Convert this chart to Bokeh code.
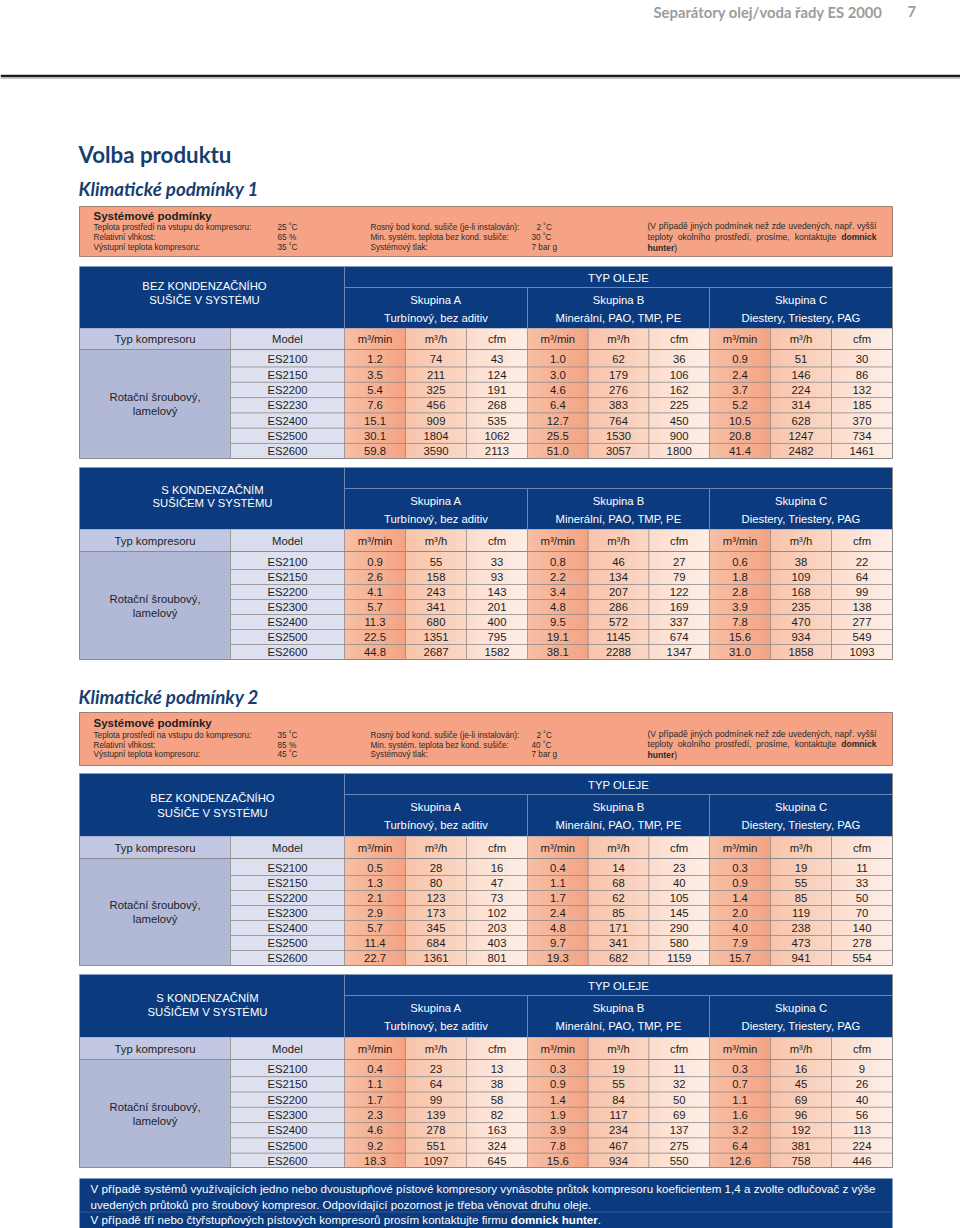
from bokeh.plotting import figure
from bokeh.models import Range1d, ColumnDataSource
from bokeh.embed import file_html
from bokeh.resources import INLINE

# ---------------- data ----------------
page_header = "Separátory olej/voda řady ES 2000"
page_number = "7"
title = "Volba produktu"
subtitle_1 = "Klimatické podmínky 1"
subtitle_2 = "Klimatické podmínky 2"

cond_labels_left = ["Teplota prostředí na vstupu do kompresoru:", "Relativní vlhkost:", "Výstupní teplota kompresoru:"]
cond_labels_mid = ["Rosný bod kond. sušiče (je-li instalován):", "Min. systém. teplota bez kond. sušiče:", "Systémový tlak:"]
cond1_left_vals = ["25 ˚C", "65 %", "35 ˚C"]
cond1_mid_vals = ["2 ˚C", "30 ˚C", "7 bar g"]
cond2_left_vals = ["35 ˚C", "85 %", "45 ˚C"]
cond2_mid_vals = ["2 ˚C", "40 ˚C", "7 bar g"]
note_line_1 = "(V případě jiných podmínek než zde uvedených, např. vyšší"
note_line_2 = "teploty okolního prostředí, prosíme, kontaktujte"
note_bold = ["domnick", "hunter"]

groups = ["Skupina A", "Skupina B", "Skupina C"]
group_oils = ["Turbínový, bez aditiv", "Minerální, PAO, TMP, PE", "Diestery, Triestery, PAG"]
units = ["m³/min", "m³/h", "cfm"]
compressor_type = ["Rotační šroubový,", "lamelový"]

models_t1 = ["ES2100", "ES2150", "ES2200", "ES2230", "ES2400", "ES2500", "ES2600"]
models_t2 = ["ES2100", "ES2150", "ES2200", "ES2300", "ES2400", "ES2500", "ES2600"]

# Table 1: climate 1, without refrigeration dryer
t1_A_m3min = [1.2, 3.5, 5.4, 7.6, 15.1, 30.1, 59.8]
t1_A_m3h = [74, 211, 325, 456, 909, 1804, 3590]
t1_A_cfm = [43, 124, 191, 268, 535, 1062, 2113]
t1_B_m3min = [1.0, 3.0, 4.6, 6.4, 12.7, 25.5, 51.0]
t1_B_m3h = [62, 179, 276, 383, 764, 1530, 3057]
t1_B_cfm = [36, 106, 162, 225, 450, 900, 1800]
t1_C_m3min = [0.9, 2.4, 3.7, 5.2, 10.5, 20.8, 41.4]
t1_C_m3h = [51, 146, 224, 314, 628, 1247, 2482]
t1_C_cfm = [30, 86, 132, 185, 370, 734, 1461]

# Table 2: climate 1, with refrigeration dryer
t2_A_m3min = [0.9, 2.6, 4.1, 5.7, 11.3, 22.5, 44.8]
t2_A_m3h = [55, 158, 243, 341, 680, 1351, 2687]
t2_A_cfm = [33, 93, 143, 201, 400, 795, 1582]
t2_B_m3min = [0.8, 2.2, 3.4, 4.8, 9.5, 19.1, 38.1]
t2_B_m3h = [46, 134, 207, 286, 572, 1145, 2288]
t2_B_cfm = [27, 79, 122, 169, 337, 674, 1347]
t2_C_m3min = [0.6, 1.8, 2.8, 3.9, 7.8, 15.6, 31.0]
t2_C_m3h = [38, 109, 168, 235, 470, 934, 1858]
t2_C_cfm = [22, 64, 99, 138, 277, 549, 1093]

# Table 3: climate 2, without refrigeration dryer
t3_A_m3min = [0.5, 1.3, 2.1, 2.9, 5.7, 11.4, 22.7]
t3_A_m3h = [28, 80, 123, 173, 345, 684, 1361]
t3_A_cfm = [16, 47, 73, 102, 203, 403, 801]
t3_B_m3min = [0.4, 1.1, 1.7, 2.4, 4.8, 9.7, 19.3]
t3_B_m3h = [14, 68, 62, 85, 171, 341, 682]
t3_B_cfm = [23, 40, 105, 145, 290, 580, 1159]
t3_C_m3min = [0.3, 0.9, 1.4, 2.0, 4.0, 7.9, 15.7]
t3_C_m3h = [19, 55, 85, 119, 238, 473, 941]
t3_C_cfm = [11, 33, 50, 70, 140, 278, 554]

# Table 4: climate 2, with refrigeration dryer
t4_A_m3min = [0.4, 1.1, 1.7, 2.3, 4.6, 9.2, 18.3]
t4_A_m3h = [23, 64, 99, 139, 278, 551, 1097]
t4_A_cfm = [13, 38, 58, 82, 163, 324, 645]
t4_B_m3min = [0.3, 0.9, 1.4, 1.9, 3.9, 7.8, 15.6]
t4_B_m3h = [19, 55, 84, 117, 234, 467, 934]
t4_B_cfm = [11, 32, 50, 69, 137, 275, 550]
t4_C_m3min = [0.3, 0.7, 1.1, 1.6, 3.2, 6.4, 12.6]
t4_C_m3h = [16, 45, 69, 96, 192, 381, 758]
t4_C_cfm = [9, 26, 40, 56, 113, 224, 446]

footer_lines = [
    "V případě systémů využívajících jedno nebo dvoustupňové pístové kompresory vynásobte průtok kompresoru koeficientem 1,4 a zvolte odlučovač z výše",
    "uvedených průtoků pro šroubový kompresor. Odpovídající pozornost je třeba věnovat druhu oleje.",
    "V případě tří nebo čtyřstupňových pístových kompresorů prosím kontaktujte firmu ",
]
footer_bold = "domnick hunter"

# ---------------- styles ----------------
NAVY = "#0b3a7e"
LIGHT_LINE = "#6a87b8"
BOX_FILL = "#f5a384"
BOX_BORDER = "#9c8072"
TYP_HDR = "#c2c8e1"
MODEL_HDR = "#d8dcec"
TYP_COL = "#b1b9d7"
MODEL_COL = "#dde0ee"
GRID = "#8e8a8a"
TITLE_BLUE = "#163f70"
TXT = "#1e1e1e"
BOXTXT = "#2a2a2a"
SANS = "Liberation Sans"
HEAD = "Lato"
SUB_GRAD = [("#f7bfa5", "#f3a383"), ("#f8c4ab", "#fad7c5"), ("#fcdccc", "#fdeee6")]

X0, XT, XM, XR = 79, 230, 344, 892
GX = [344, 527, 709, 892]

# Arial / Liberation Sans advance widths (1/1000 em) for text layout
_REG = {" ": 278, "(": 333, ")": 333, ",": 278, ".": 278, ":": 278, "-": 333, "%": 889,
        "a": 556, "b": 556, "c": 500, "d": 556, "e": 556, "f": 278, "g": 556, "h": 556, "i": 222,
        "j": 222, "k": 500, "l": 222, "m": 833, "n": 556, "o": 556, "p": 556, "q": 556, "r": 333,
        "s": 500, "t": 278, "u": 556, "v": 500, "w": 722, "x": 500, "y": 500, "z": 500,
        "á": 556, "é": 556, "ě": 556, "í": 278, "ý": 500, "ř": 333, "š": 500, "ž": 500, "č": 500,
        "ů": 556, "ň": 556, "ú": 556, "V": 667, "O": 778, "1": 556, "4": 556}
_BOLD = {" ": 278, ".": 278, "a": 556, "c": 556, "d": 611, "e": 556, "h": 611, "i": 278, "k": 556,
         "m": 889, "n": 611, "o": 611, "r": 389, "t": 333, "u": 611}


def tw(s, size, bold=False):
    tab = _BOLD if bold else _REG
    return sum(tab.get(ch, 556) for ch in s) * size / 1000.0


R = dict(l=[], r=[], t=[], b=[], c=[])
S = dict(x0=[], y0=[], x1=[], y1=[], c=[], w=[])
T = dict(x=[], y=[], text=[], size=[], color=[], font=[], style=[], align=[])


def rect(l, r, t, b, c):
    R["l"].append(l); R["r"].append(r); R["t"].append(t); R["b"].append(b); R["c"].append(c)


def seg(x0, y0, x1, y1, c, w=1.0):
    S["x0"].append(x0); S["y0"].append(y0); S["x1"].append(x1); S["y1"].append(y1)
    S["c"].append(c); S["w"].append(w)


def txt(x, y, s, size, color=TXT, font=SANS, style="normal", align="left"):
    T["x"].append(x); T["y"].append(y); T["text"].append(s); T["size"].append(f"{size}px")
    T["color"].append(color); T["font"].append(font); T["style"].append(style); T["align"].append(align)


def lerp(c1, c2, f):
    a = [int(c1[i:i + 2], 16) for i in (1, 3, 5)]
    b = [int(c2[i:i + 2], 16) for i in (1, 3, 5)]
    return "#" + "".join(f"{round(a[k] + (b[k] - a[k]) * f):02x}" for k in range(3))


def gradient(l, r, t, b, c1, c2, n=12):
    w = (r - l) / n
    for i in range(n):
        rect(l + i * w, l + (i + 1) * w + 0.6, t, b, lerp(c1, c2, (i + 0.5) / n))


def justified(words, x0, x1, y, size, color):
    total = sum(tw(w, size, b) for w, b in words)
    gap = (x1 - x0 - total) / (len(words) - 1)
    x = x0
    for w, b in words:
        txt(x, y, w, size, color, SANS, "bold" if b else "normal")
        x += tw(w, size, b) + gap


# ---------------- page header ----------------
txt(653, 11, page_header, 14.8, "#9c9c9c", HEAD, "bold")
txt(907, 11, page_number, 14.8, "#9c9c9c", HEAD, "bold")
seg(0, 75.5, 960, 75.5, "#1c1c1c", 2.5)
seg(0, 77.7, 960, 77.7, "#a8a8a8", 1)

txt(78, 154, title, 22.3, TITLE_BLUE, HEAD, "bold")
txt(78, 188, subtitle_1, 18.7, TITLE_BLUE, HEAD, "bold italic")
txt(78, 696, subtitle_2, 18.7, TITLE_BLUE, HEAD, "bold italic")


# ---------------- condition boxes ----------------
def cond_box(top, bot, head_y, ys, rys, lvals, mvals):
    rect(X0, XR, top, bot, BOX_FILL)
    seg(X0, top, XR, top, BOX_BORDER); seg(X0, bot, XR, bot, BOX_BORDER)
    seg(X0, top, X0, bot, BOX_BORDER); seg(XR, top, XR, bot, BOX_BORDER)
    txt(93, head_y, "Systémové podmínky", 11.5, TXT, SANS, "bold")
    for i in range(3):
        txt(93, ys[i], cond_labels_left[i], 8.2, BOXTXT)
        txt(277, ys[i], lvals[i], 8.2, BOXTXT)
        txt(370, ys[i], cond_labels_mid[i], 8.2, BOXTXT)
        txt(536 if i == 0 else 531, ys[i], mvals[i], 8.2, BOXTXT)
    size = 8.6
    justified([(w, False) for w in note_line_1.split(" ")], 647, 876, rys[0], size, BOXTXT)
    justified([(w, False) for w in note_line_2.split(" ")] + [(note_bold[0], True)],
              647, 876, rys[1], size, BOXTXT)
    txt(647, rys[2], note_bold[1], size, BOXTXT, SANS, "bold")
    txt(647 + tw(note_bold[1], size, True), rys[2], ")", size, BOXTXT)


cond_box(206, 256, 215, [227, 237, 247], [225, 236, 247], cond1_left_vals, cond1_mid_vals)
cond_box(712, 765, 722, [735, 745, 754], [733, 743, 754], cond2_left_vals, cond2_mid_vals)


# ---------------- tables ----------------
def table(top, hdr, typ, bot, first, step, tlines, tys, tx, oleje, typ_y, models, data):
    rect(X0, XR, top, hdr, NAVY)
    seg(XM, top, XM, hdr, LIGHT_LINE, 1)
    seg(XM, top + 21, XR, top + 21, LIGHT_LINE, 1)
    for gx in GX[1:3]:
        seg(gx, top + 21, gx, hdr, LIGHT_LINE, 1)
    for s, y in zip(tlines, tys):
        txt(tx, y, s, 11.3, "white", align="center")
    if oleje:
        txt((XM + XR) / 2, top + 11, "TYP OLEJE", 11.3, "white", align="center")
    for g in range(3):
        cx = (GX[g] + GX[g + 1]) / 2
        txt(cx, top + 33, groups[g], 11.3, "white", align="center")
        txt(cx, top + 51, group_oils[g], 11.3, "white", align="center")
    rect(X0, XT, hdr, typ, TYP_HDR)
    rect(XT, XM, hdr, typ, MODEL_HDR)
    rect(X0, XT, typ, bot, TYP_COL)
    rect(XT, XM, typ, bot, MODEL_COL)
    sub_edges = []
    for g in range(3):
        w = (GX[g + 1] - GX[g]) / 3
        for k in range(3):
            l, r = GX[g] + k * w, GX[g] + (k + 1) * w
            sub_edges.append((l, r, k))
            gradient(l, r, hdr, bot, *SUB_GRAD[k])
    seg(X0, typ, XR, typ, GRID, 1)
    for i in range(len(models) - 1):
        y = first + step * (i + 0.5)
        seg(XT, y, XR, y, GRID, 0.8)
    seg(XT, hdr, XT, bot, GRID, 0.8)
    for l, r, k in sub_edges:
        seg(l, hdr, l, bot, GRID, 0.8)
    seg(X0, top, X0, bot, GRID, 1)
    seg(XR, top, XR, bot, GRID, 1)
    seg(X0, bot, XR, bot, GRID, 1)
    txt((X0 + XT) / 2, typ_y, "Typ kompresoru", 11.3, align="center")
    txt((XT + XM) / 2, typ_y, "Model", 11.3, align="center")
    for l, r, k in sub_edges:
        txt((l + r) / 2, typ_y, units[k], 11.3, align="center")
    mid = (typ + bot) / 2
    txt((X0 + XT) / 2, mid - 7, compressor_type[0], 11.3, align="center")
    txt((X0 + XT) / 2, mid + 7, compressor_type[1], 11.3, align="center")
    for i, m in enumerate(models):
        y = first + step * i
        txt((XT + XM) / 2, y, m, 11.3, align="center")
        for j, (l, r, k) in enumerate(sub_edges):
            v = data[j][i]
            s = f"{v:.1f}" if k == 0 else f"{int(v)}"
            txt((l + r) / 2, y, s, 11.3, align="center")


t1 = [t1_A_m3min, t1_A_m3h, t1_A_cfm, t1_B_m3min, t1_B_m3h, t1_B_cfm, t1_C_m3min, t1_C_m3h, t1_C_cfm]
t2 = [t2_A_m3min, t2_A_m3h, t2_A_cfm, t2_B_m3min, t2_B_m3h, t2_B_cfm, t2_C_m3min, t2_C_m3h, t2_C_cfm]
t3 = [t3_A_m3min, t3_A_m3h, t3_A_cfm, t3_B_m3min, t3_B_m3h, t3_B_cfm, t3_C_m3min, t3_C_m3h, t3_C_cfm]
t4 = [t4_A_m3min, t4_A_m3h, t4_A_cfm, t4_B_m3min, t4_B_m3h, t4_B_cfm, t4_C_m3min, t4_C_m3h, t4_C_cfm]

bez = ["BEZ KONDENZAČNÍHO", "SUŠIČE V SYSTÉMU"]
sk = ["S KONDENZAČNÍM", "SUŠIČEM V SYSTÉMU"]

table(266, 328, 349, 458, 358.8, 15.3, bez, [285, 299], 204, True, 338.5, models_t1, t1)
table(467, 529, 551, 659, 561.5, 15.0, sk, [489, 502], 212, False, 540, models_t2, t2)
table(773, 836, 858, 965, 867.5, 15.0, bez, [797, 812], 212, True, 847, models_t2, t3)
table(974, 1037, 1059, 1167, 1068.5, 15.3, sk, [997, 1011], 207, True, 1048, models_t2, t4)

# ---------------- footer ----------------
FS = 11.6
rect(X0, XR, 1178, 1229, NAVY)
txt(90, 1188, footer_lines[0], FS, "white")
txt(90, 1204, footer_lines[1], FS, "white")
seg(X0, 1211.5, XR, 1211.5, "#3d61a0", 0.8)
txt(90, 1219, footer_lines[2], FS, "white")
bx = 90 + tw(footer_lines[2], FS)
txt(bx, 1219, footer_bold, FS, "white", SANS, "bold")
txt(bx + tw(footer_bold, FS, True), 1219, ".", FS, "white")

# ---------------- figure ----------------
p = figure(width=960, height=1228, x_range=Range1d(0, 960), y_range=Range1d(1228, 0),
           output_backend="svg", toolbar_location=None, min_border=0,
           x_axis_location=None, y_axis_location=None)
p.xgrid.visible = False
p.ygrid.visible = False
p.outline_line_color = None
p.background_fill_color = "white"
p.border_fill_color = "white"

p.quad(left="l", right="r", top="t", bottom="b", fill_color="c", line_color=None,
       source=ColumnDataSource(R))
p.segment(x0="x0", y0="y0", x1="x1", y1="y1", line_color="c", line_width="w",
          source=ColumnDataSource(S))
p.text(x="x", y="y", text="text", text_font_size="size", text_color="color",
       text_font="font", text_font_style="style", text_align="align",
       text_baseline="middle", source=ColumnDataSource(T))

open("out.html", "w").write(file_html(p, INLINE))
